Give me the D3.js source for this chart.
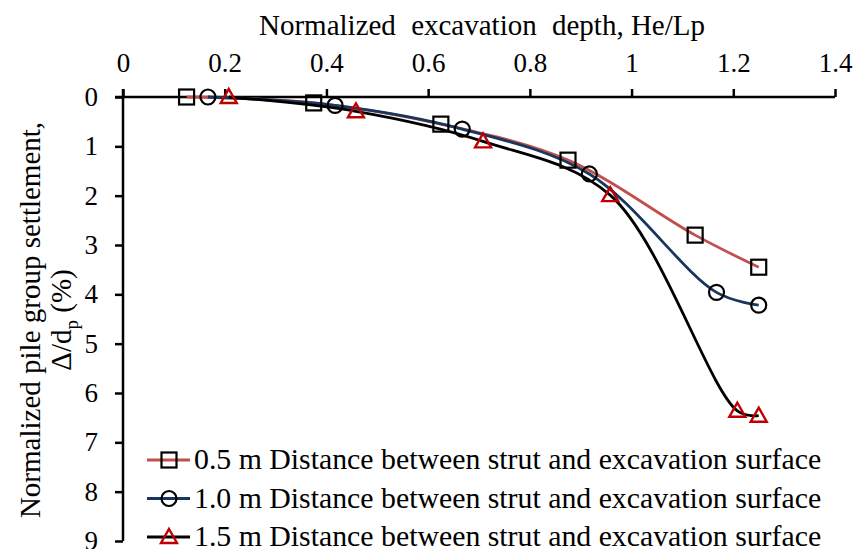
<!DOCTYPE html>
<html>
<head>
<meta charset="utf-8">
<script src="https://cdn.jsdelivr.net/npm/d3@7"></script>
<style>
  html, body { margin: 0; padding: 0; background: #fff; }
  svg text { font-family: "Liberation Serif", "Times New Roman", Times, serif; }
</style>
</head>
<body>
<svg id="chart" width="857" height="549"></svg>
<script>
// Normalized excavation depth He/Lp (x) and normalized settlement Δ/dp in % (y)
const depth05 = [0.125, 0.375, 0.625, 0.875, 1.125, 1.25];
const settle05 = [0, 0.12, 0.55, 1.28, 2.8, 3.45];
const depth10 = [0.167, 0.417, 0.667, 0.917, 1.167, 1.25];
const settle10 = [0, 0.17, 0.65, 1.56, 3.96, 4.22];
const depth15 = [0.208, 0.458, 0.708, 0.958, 1.208, 1.25];
const settle15 = [0, 0.29, 0.9, 1.99, 6.36, 6.46];
const seriesNames = [
  "0.5 m Distance between strut and excavation surface",
  "1.0 m Distance between strut and excavation surface",
  "1.5 m Distance between strut and excavation surface"
];
const xTicks = [0, 0.2, 0.4, 0.6, 0.8, 1, 1.2, 1.4];
const yTicks = [0, 1, 2, 3, 4, 5, 6, 7, 8, 9];

const SERIF = "'Liberation Serif', 'Times New Roman', Times, serif";

const series = [
  { name: seriesNames[0], xs: depth05, ys: settle05, line: "#C0504D", marker: "square", mstroke: "#000" },
  { name: seriesNames[1], xs: depth10, ys: settle10, line: "#17375E", marker: "circle", mstroke: "#000" },
  { name: seriesNames[2], xs: depth15, ys: settle15, line: "#000000", marker: "triangle", mstroke: "#C00000" }
];

const svg = d3.select("#chart");
const x = d3.scaleLinear().domain([0, 1.4]).range([123, 835]);
const y = d3.scaleLinear().domain([0, 9]).range([97, 541]);

// axes: depth along the top, settlement increasing downward
const xAxis = svg.append("g").attr("transform", `translate(0,${y(0)})`)
  .call(d3.axisTop(x).tickValues(xTicks).tickFormat(d3.format("")).tickSizeOuter(0).tickSize(8).tickPadding(17));
const yAxis = svg.append("g").attr("transform", `translate(${x(0)},0)`)
  .call(d3.axisLeft(y).tickValues(yTicks).tickFormat(d3.format("")).tickSizeOuter(0).tickSize(8).tickPadding(17));
[xAxis, yAxis].forEach(g => {
  g.attr("font-family", SERIF).attr("font-size", 27);
  g.select(".domain").attr("stroke", "#000").attr("stroke-width", 2.5);
  g.selectAll(".tick line").attr("stroke", "#000").attr("stroke-width", 2.5);
  g.selectAll(".tick text").attr("fill", "#000").attr("font-family", SERIF).attr("font-size", 27);
});
xAxis.select(".domain").attr("d", `M${x(0) - 8},0H${x(1.4)}`);
yAxis.select(".domain").attr("d", `M0,${y(0) - 8}V${y(9)}`);

// axis titles
const xt = svg.append("text").attr("x", 482).attr("y", 35).attr("text-anchor", "middle")
  .attr("font-family", SERIF).attr("font-size", 29);
xt.append("tspan").text("Normalized");
xt.append("tspan").attr("dx", 8).text(" excavation");
xt.append("tspan").attr("dx", 8).text(" depth, He/Lp");

const yt = svg.append("g").attr("transform", `translate(0,320) rotate(-90)`);
yt.append("text").attr("x", 0).attr("y", 40).attr("text-anchor", "middle")
  .attr("font-family", SERIF).attr("font-size", 29).text("Normalized pile group settlement,");
const yt2 = yt.append("text").attr("x", 0).attr("y", 71).attr("text-anchor", "middle")
  .attr("font-family", SERIF).attr("font-size", 29);
yt2.append("tspan").text("Δ/d");
yt2.append("tspan").attr("dy", 7).attr("font-size", 19).text("p");
yt2.append("tspan").attr("dy", -7).text(" (%)");

// hollow markers
function drawMarker(g, type, cx, cy, stroke) {
  if (type === "square") {
    g.append("rect").attr("x", cx - 7.5).attr("y", cy - 7.5).attr("width", 15).attr("height", 15)
      .attr("fill", "none").attr("stroke", stroke).attr("stroke-width", 2.2);
  } else if (type === "circle") {
    g.append("circle").attr("cx", cx).attr("cy", cy).attr("r", 7.5)
      .attr("fill", "none").attr("stroke", stroke).attr("stroke-width", 2.2);
  } else {
    const h = 14, w = 16;
    g.append("path").attr("d", `M${cx},${cy - h / 2 - 1}L${cx + w / 2},${cy + h / 2 - 1}L${cx - w / 2},${cy + h / 2 - 1}Z`)
      .attr("fill", "none").attr("stroke", stroke).attr("stroke-width", 2.4);
  }
}

const line = d3.line().x(d => x(d[0])).y(d => y(d[1])).curve(d3.curveCatmullRom.alpha(0.5));

series.forEach(s => {
  const pts = s.xs.map((v, i) => [v, s.ys[i]]);
  svg.append("path").datum(pts).attr("d", line).attr("fill", "none")
    .attr("stroke", s.line).attr("stroke-width", 2.8);
});
series.forEach(s => {
  const g = svg.append("g");
  s.xs.forEach((v, i) => drawMarker(g, s.marker, x(v), y(s.ys[i]), s.mstroke));
});

// legend
const legend = svg.append("g");
series.forEach((s, i) => {
  const ly = 460 + i * 38.5;
  legend.append("line").attr("x1", 147).attr("x2", 190).attr("y1", ly).attr("y2", ly)
    .attr("stroke", s.line).attr("stroke-width", 2.8);
  drawMarker(legend, s.marker, 169, ly, s.mstroke);
  legend.append("text").attr("x", 194).attr("y", ly + 9)
    .attr("font-family", SERIF).attr("font-size", 29.8).text(s.name);
});
</script>
</body>
</html>
